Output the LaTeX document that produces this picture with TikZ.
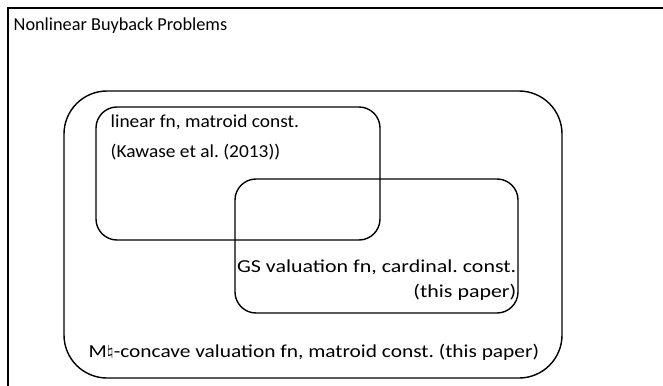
\documentclass[tikz,border=0pt]{standalone}
\usepackage{fontspec}
\setmainfont{Carlito}
\newcommand{\widetxt}[2]{\scalebox{#1}[1]{#2}}
\begin{document}
\frenchspacing
\begin{tikzpicture}[line width=0.8pt, txt/.style={inner sep=0pt, font=\fontsize{10.4}{12}\selectfont}]
		\clip (0,0) rectangle (13.26,7.7);
		\draw (0.16,-1) rectangle (14,7.54);
		\node[txt, anchor=west] (title) at (0.26,7.18) {Nonlinear Buyback Problems};
		
		\draw[rounded corners=0.86cm] (1.28,0.14) rectangle (11.24,5.88);
		\draw[rounded corners=0.42cm] (1.92,2.9) rectangle (7.6,5.56);
		\draw[rounded corners=0.42cm] (4.7,1.44) rectangle (10.36,4.12);
		
		\node[txt, anchor=west] (lin1) at (2.2,5.26) {\widetxt{1.06}{linear fn, matroid const.}};
		\node[txt, anchor=west] (lin2) at (2.2,4.66) {\widetxt{1.06}{(Kawase et al. (2013))}};
		\node[txt, anchor=east] (gs1) at (10.34,2.36) {\widetxt{1.2}{GS valuation fn, cardinal. const.}};
		\node[txt, anchor=east] (gs2) at (10.34,1.86) {\widetxt{1.2}{(this paper)}};
		\node[txt, anchor=west] (mnat) at (1.76,0.66) {\widetxt{1.17}{M\raisebox{0.15ex}{\footnotesize$\natural$}-concave valuation fn, matroid const. (this paper)}};
\end{tikzpicture}
\end{document}
